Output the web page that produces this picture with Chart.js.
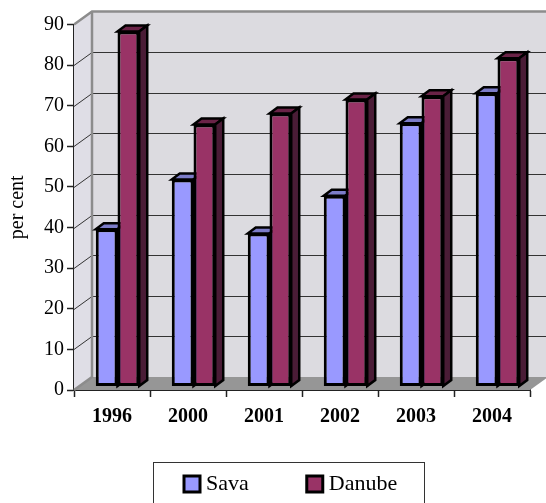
<!DOCTYPE html>
<html><head><meta charset="utf-8">
<style>html,body{margin:0;padding:0;background:#fff}#w{width:546px;height:503px;position:relative}</style>
<script src="https://cdn.jsdelivr.net/npm/chart.js@4"></script>
</head><body><div id="w"><canvas id="c" width="546" height="503"></canvas></div>
<script>
const categories = ['1996','2000','2001','2002','2003','2004'];
const sava = [38.7, 51, 37.7, 47, 64.8, 72.2];
const danube = [87.4, 64.5, 67.2, 70.7, 71.5, 80.8];
const yTicks = [0,10,20,30,40,50,60,70,80,90];

const SERIF = '"Liberation Serif","Times New Roman",serif';
const DX = 18, DY = 13;      // wall depth
const BX = 5.5, BY = -3.5;   // bars offset from the front plane
const EX = 8, EY = 6;        // bar depth
const faces = [
  {top:'#7c7cc8', side:'#5a5a99'},
  {top:'#6a2347', side:'#4a1c36'}
];

function poly(ctx, pts, fill, stroke, lw){
  ctx.beginPath();
  pts.forEach((p,i)=> i?ctx.lineTo(p[0],p[1]):ctx.moveTo(p[0],p[1]));
  ctx.closePath();
  if(fill){ctx.fillStyle=fill;ctx.fill();}
  if(stroke){ctx.strokeStyle=stroke;ctx.lineWidth=lw||1;ctx.stroke();}
}

const threeD = {
  id:'threeD',
  beforeLayout(chart){
    if(chart.legend) Chart.layouts.removeBox(chart, chart.legend);
  },
  afterLayout(chart){
    const lg = chart.legend;
    lg.update(546, 200, {top:0,left:0,right:0,bottom:0});
    lg.left = 126; lg.right = 546; lg.top = 410; lg.bottom = 503;
  },
  beforeDatasetsDraw(chart){
    const {ctx, scales:{x,y}} = chart;
    const l=x.left, r=x.right, t=y.top, b=y.bottom;
    ctx.save();
    poly(ctx,[[l+DX,t-DY],[r+DX,t-DY],[r+DX,b-DY],[l+DX,b-DY]],'#dcdbe0');
    poly(ctx,[[l,t],[l+DX,t-DY],[l+DX,b-DY],[l,b]],'#dfdee6');
    poly(ctx,[[l,b],[l+DX,b-DY],[r+DX,b-DY],[r,b]],'#969696');
    ctx.strokeStyle='#333';ctx.lineWidth=1;
    yTicks.forEach(v=>{
      if(v===0||v===90) return;
      const py=Math.round(y.getPixelForValue(v))+.5;
      ctx.beginPath();
      ctx.moveTo(l,py);ctx.lineTo(l+DX,py-DY);ctx.lineTo(r+DX,py-DY);ctx.stroke();
    });
    ctx.strokeStyle='#8c8c8c';ctx.lineWidth=2.5;
    ctx.beginPath();
    ctx.moveTo(l,t);ctx.lineTo(l+DX,t-DY);ctx.lineTo(r+DX,t-DY);
    ctx.moveTo(l+DX,t-DY);ctx.lineTo(l+DX,b-DY);ctx.lineTo(l,b);
    ctx.stroke();
    ctx.restore();

    ctx.save();
    ctx.translate(BX,BY);
    chart.data.datasets.forEach((ds,i)=>{
      chart.getDatasetMeta(i).data.forEach(el=>{
        const p = el.getProps(['x','y','base','width'],true);
        const x0=p.x-p.width/2, x1=p.x+p.width/2;
        poly(ctx,[[x0,p.y],[x0+EX,p.y-EY],[x1+EX,p.y-EY],[x1,p.y]],faces[i].top,'#000',2.5);
        poly(ctx,[[x1,p.y],[x1+EX,p.y-EY],[x1+EX,p.base-EY],[x1,p.base]],faces[i].side,'#000',2.5);
      });
    });
  },
  afterDatasetsDraw(chart){
    chart.ctx.restore();
  },
  afterDraw(chart){
    const ctx=chart.ctx;
    ctx.save();
    ctx.strokeStyle='#333';ctx.lineWidth=1;
    ctx.strokeRect(153.5,462.5,271,60);
    ctx.restore();
    chart.legend.draw();
  }
};

new Chart(document.getElementById('c'),{
  type:'bar',
  data:{labels:categories,datasets:[
    {label:'Sava',data:sava,backgroundColor:'#9999ff',borderColor:'#000',borderWidth:3,borderSkipped:false,clip:false,pointStyle:'rect'},
    {label:'Danube',data:danube,backgroundColor:'#993366',borderColor:'#000',borderWidth:3,borderSkipped:false,clip:false,pointStyle:'rect'}
  ]},
  options:{
    responsive:false,animation:false,
    layout:{padding:{top:24.5,right:16,left:0,bottom:0}},
    datasets:{bar:{categoryPercentage:0.572,barPercentage:1}},
    plugins:{
      tooltip:{enabled:false},
      legend:{display:true,position:'bottom',align:'start',
        labels:{usePointStyle:true,boxWidth:6,boxHeight:16,padding:63,color:'#000',
          font:{family:SERIF,size:22}}}
    },
    scales:{
      x:{
        afterFit(s){s.height=113;},
        border:{color:'#222',width:2},
        grid:{drawOnChartArea:false,tickLength:7,color:'#222',tickWidth:1.5},
        ticks:{color:'#000',padding:8,maxRotation:0,font:{family:SERIF,size:20,weight:'bold'}}
      },
      y:{
        min:0,max:90,
        afterFit(s){s.width=74;},
        border:{color:'#222',width:2},
        grid:{drawOnChartArea:false,tickLength:7,color:'#222',tickWidth:1.5},
        ticks:{stepSize:10,color:'#000',padding:3,font:{family:SERIF,size:20}},
        title:{display:true,text:'per cent',color:'#000',padding:{top:6,bottom:0},font:{family:SERIF,size:20}}
      }
    }
  },
  plugins:[threeD]
});
</script></body></html>
